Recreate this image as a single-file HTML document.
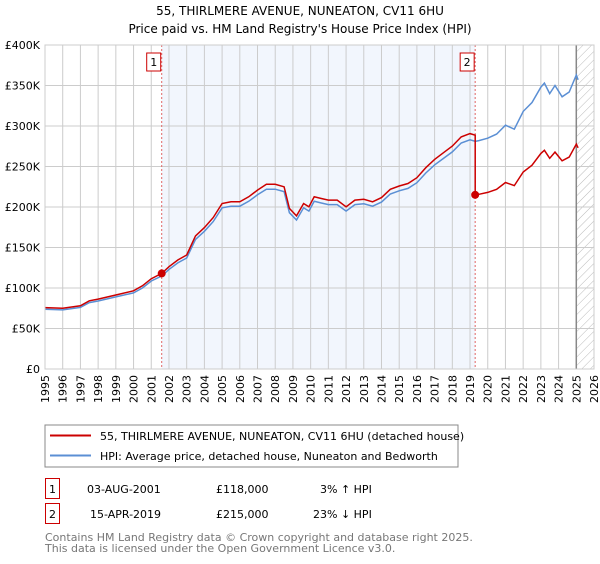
<!DOCTYPE html>
<html><head><meta charset="utf-8"><style>
body{margin:0;background:#fff;font-family:"DejaVu Sans","Liberation Sans",sans-serif;}
svg text{font-family:"DejaVu Sans","Liberation Sans",sans-serif;}
</style></head><body>
<svg id="chart" width="600" height="560" xmlns="http://www.w3.org/2000/svg">
<defs><pattern id="hatch" width="6" height="6" patternUnits="userSpaceOnUse" patternTransform="rotate(45)"><line x1="0" y1="0" x2="0" y2="6" stroke="#bbb" stroke-width="1"/></pattern></defs>
<text x="300" y="15" text-anchor="middle" font-size="12">55, THIRLMERE AVENUE, NUNEATON, CV11 6HU</text>
<text x="300" y="33" text-anchor="middle" font-size="12">Price paid vs. HM Land Registry's House Price Index (HPI)</text>
<g id="plot"></g>
<g>
<rect x="45" y="425" width="413" height="42" fill="#fff" stroke="#888"/>
<line x1="50" y1="435.5" x2="91" y2="435.5" stroke="#cc0000" stroke-width="2"/>
<text x="100" y="440" font-size="11">55, THIRLMERE AVENUE, NUNEATON, CV11 6HU (detached house)</text>
<line x1="50" y1="455.5" x2="91" y2="455.5" stroke="#5b8fd4" stroke-width="2"/>
<text x="100" y="460" font-size="11">HPI: Average price, detached house, Nuneaton and Bedworth</text>
</g>
<g font-size="11">
<rect x="45.5" y="478.5" width="14" height="20" fill="#fff" stroke="#cc0000"/>
<text x="52.5" y="493" text-anchor="middle">1</text>
<text x="87" y="493">03-AUG-2001</text>
<text x="216" y="493">£118,000</text>
<text x="320" y="493">3% ↑ HPI</text>
</g>
<g font-size="11">
<rect x="45.5" y="503.5" width="14" height="20" fill="#fff" stroke="#cc0000"/>
<text x="52.5" y="518" text-anchor="middle">2</text>
<text x="90" y="518">15-APR-2019</text>
<text x="216" y="518">£215,000</text>
<text x="313" y="518">23% ↓ HPI</text>
</g>
<text x="45" y="541" font-size="11" fill="#777">Contains HM Land Registry data © Crown copyright and database right 2025.</text>
<text x="45" y="552" font-size="11" fill="#777">This data is licensed under the Open Government Licence v3.0.</text>
</svg>
<script>
const hpiYears=[1995,1996,1997,1997.5,1998,1999,2000,2000.5,2001,2001.6,2002,2002.5,2003,2003.5,2004,2004.5,2005,2005.5,2006,2006.5,2007,2007.5,2008,2008.5,2008.8,2009.2,2009.6,2009.9,2010.2,2010.6,2011,2011.5,2012,2012.5,2013,2013.5,2014,2014.5,2015,2015.5,2016,2016.5,2017,2017.5,2018,2018.5,2019,2019.3,2019.5,2020,2020.5,2021,2021.5,2022,2022.5,2023,2023.2,2023.5,2023.8,2024.2,2024.6,2025.0,2025.1];
const hpiValues=[73.8,73,76,82,84,89,94,100,108.6,115,123,131,137,160,170,182,199,201,201,207,215,222,222,219,193,184,199,195,207,205,203,203,195,203,204,201,206,216,220,223,230,242,252,260,268,279,283,281,282,285,290,301,296,318,329,348,353,340,350,336,342,363,357];
const saleYears=[2001.59,2019.29];
const salePrices=[118,215];
const yTicks=[0,50,100,150,200,250,300,350,400];
const yTickLabels=["£0","£50K","£100K","£150K","£200K","£250K","£300K","£350K","£400K"];
const xTicks=[1995,1996,1997,1998,1999,2000,2001,2002,2003,2004,2005,2006,2007,2008,2009,2010,2011,2012,2013,2014,2015,2016,2017,2018,2019,2020,2021,2022,2023,2024,2025,2026];

const X0=45,X1=594,Y0=369,Y1=45;
const xs=t=>X0+(t-1995)/(2026-1995)*(X1-X0);
const ys=v=>Y0-v/400*(Y0-Y1);
const NS="http://www.w3.org/2000/svg";
const plot=document.getElementById('plot');
function mk(tag,attrs,parent){const e=document.createElementNS(NS,tag);for(const k in attrs)e.setAttribute(k,attrs[k]);(parent||plot).appendChild(e);return e;}
function hpiAt(t){for(let i=0;i<hpiYears.length-1;i++){if(t<=hpiYears[i+1]){const f=(t-hpiYears[i])/(hpiYears[i+1]-hpiYears[i]);return hpiValues[i]+f*(hpiValues[i+1]-hpiValues[i]);}}return hpiValues[hpiValues.length-1];}

let r=mk('rect',{x:xs(saleYears[0]),y:Y1,width:xs(saleYears[1])-xs(saleYears[0]),height:Y0-Y1,fill:'#f2f6fd'});


let h=mk('rect',{x:xs(2025),y:Y1,width:X1-xs(2025),height:Y0-Y1,fill:'url(#hatch)'});


xTicks.forEach(t=>{
 let l=mk('line',{x1:xs(t),x2:xs(t),y1:Y1,y2:Y0,stroke:'#ccc','stroke-width':1});
 
 
 let tx=mk('text',{x:0,y:0,'font-size':11,'text-anchor':'end',transform:'translate('+(xs(t)+4)+','+(Y0+6)+') rotate(-90)'});
 
 
 tx.textContent=t;
});
yTicks.forEach((v,i)=>{
 let l=mk('line',{x1:X0,x2:X1,y1:ys(v),y2:ys(v),stroke:'#ccc','stroke-width':1});
 
 
 let tx=mk('text',{x:X0-5,y:ys(v)+4,'font-size':11,'text-anchor':'end'});
 
 
 tx.textContent=yTickLabels[i];
});
let vl=mk('line',{x1:xs(2025),x2:xs(2025),y1:Y1,y2:Y0,stroke:'#888','stroke-width':1.5});


saleYears.forEach((t,i)=>{
 let d=mk('line',{x1:xs(t),x2:xs(t),y1:Y1,y2:Y0,stroke:'#e06666','stroke-width':1,'stroke-dasharray':'2,2'});
 
 
 let b=mk('rect',{x:xs(t)-15,y:53,width:14,height:18,fill:'#fff',stroke:'#cc0000'});
 
 
 let tx=mk('text',{x:xs(t)-8,y:66,'font-size':11,'text-anchor':'middle'});
 
 
 tx.textContent=String(i+1);
});
let hp=hpiYears.map((t,i)=>xs(t).toFixed(1)+','+ys(hpiValues[i]).toFixed(1)).join(' ');
let hl=mk('polyline',{points:hp,fill:'none',stroke:'#5b8fd4','stroke-width':1.5});


let pts=[];
const h0=hpiAt(saleYears[0]),h1=hpiAt(saleYears[1]);
hpiYears.forEach((t,i)=>{if(t<saleYears[1])pts.push([t,salePrices[0]*hpiValues[i]/h0]);});
pts.push([saleYears[1]-0.001,salePrices[0]*h1/h0]);
pts.push([saleYears[1],salePrices[1]]);
hpiYears.forEach((t,i)=>{if(t>saleYears[1])pts.push([t,salePrices[1]*hpiValues[i]/h1]);});
let pl=mk('polyline',{points:pts.map(p=>xs(p[0]).toFixed(1)+','+ys(p[1]).toFixed(1)).join(' '),fill:'none',stroke:'#cc0000','stroke-width':1.5});


saleYears.forEach((t,i)=>{
 let c=mk('circle',{cx:xs(t),cy:ys(salePrices[i]),r:4,fill:'#cc0000'});
 
 
});
let fr=mk('rect',{x:X0,y:Y1,width:X1-X0,height:Y0-Y1,fill:'none',stroke:'#ccc'});


</script>
</body></html>
